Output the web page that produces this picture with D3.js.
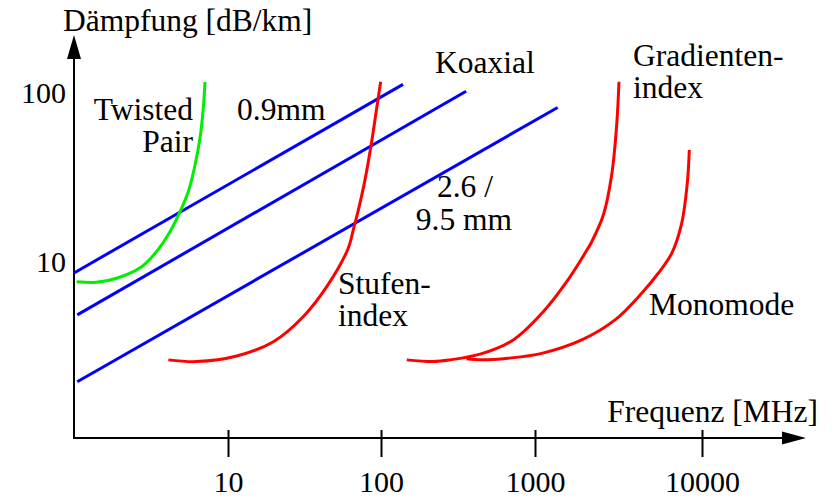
<!DOCTYPE html>
<html>
<head>
<meta charset="utf-8">
<script src="https://cdn.jsdelivr.net/npm/d3@7"></script>
<style>
  html, body { margin: 0; padding: 0; background: #fff; }
  svg { display: block; }
  text { font-family: "Liberation Serif", "Times New Roman", serif; fill: #000; }
</style>
</head>
<body>
<svg id="chart" width="834" height="498"></svg>
<script>
// ---- Data (frequency in MHz, attenuation in dB/km) ----
const xTickValues = [10, 100, 1000, 10000];
const xTickLabels = ["10", "100", "1000", "10000"];
const yTickValues = [10, 100];
const yTickLabels = ["10", "100"];

// Koaxial cables (straight lines in log-log)
const koax09 = [[1.0, 8.5], [139, 111]];
const koaxMid = [[1.05, 4.8], [357, 101]];
const koax26 = [[1.05, 1.93], [1367, 81]];

// Twisted pair (green)
const twistedPair = [
  [1.04, 7.54], [1.40, 7.48], [1.89, 7.9], [2.75, 9.25], [3.44, 11.4],
  [4.20, 14.9], [4.88, 19.6], [5.52, 25.7], [6.11, 37.0], [6.58, 53.4],
  [6.91, 80.1], [7.09, 114.6]
];

// Stufenindex fibre (red)
const stufenindex = [
  [4.10, 2.60], [6.26, 2.54], [11.4, 2.74], [19.8, 3.33], [31.0, 4.68],
  [44.2, 7.05], [61.1, 11.9], [65.9, 15.3], [71.1, 20.0], [78.6, 30.2],
  [86.9, 50.8], [93.7, 80.1], [99.5, 115]
];

// Gradientenindex fibre (red)
const gradientenindex = [
  [147, 2.60], [219, 2.54], [281, 2.60], [440, 2.81], [723, 3.41],
  [1121, 5.01], [1549, 7.54], [1991, 11.1], [2186, 13.0], [2566, 18.7],
  [2878, 32.3], [3084, 63.8], [3184, 115]
];

// Monomode fibre (red)
const monomode = [
  [359, 2.64], [451, 2.60], [671, 2.66], [1097, 2.84], [1905, 3.41],
  [3014, 4.48], [4352, 6.44], [5470, 8.46], [6586, 11.1], [7558, 16.7],
  [8163, 28.8], [8395, 45.4]
];

// ---- Scales ----
const x = d3.scaleLog()
  .domain([1, 10, 100, 1000, 10000])
  .range([74, 228, 381, 535, 702]);
const y = d3.scaleLog()
  .domain([1, 100])
  .range([430, 92]);

const svg = d3.select("#chart");
const FONT = 31.5;
const TICKFONT = 30;

// ---- Axes ----
const axisX = 74, axisY = 438;
svg.append("line")
  .attr("x1", axisX).attr("y1", axisY).attr("x2", 784).attr("y2", axisY)
  .attr("stroke", "#000").attr("stroke-width", 2);
svg.append("path")
  .attr("d", `M806,${axisY} L782,${axisY - 6.5} L782,${axisY + 6.5} Z`)
  .attr("fill", "#000");
svg.append("line")
  .attr("x1", axisX).attr("y1", axisY + 1).attr("x2", axisX).attr("y2", 57)
  .attr("stroke", "#000").attr("stroke-width", 2);
svg.append("path")
  .attr("d", `M${axisX},35 L${axisX - 7},59 L${axisX + 7},59 Z`)
  .attr("fill", "#000");

const gx = svg.append("g")
  .attr("transform", `translate(0,${axisY})`)
  .call(d3.axisBottom(x)
    .tickValues(xTickValues)
    .tickFormat((d, i) => xTickLabels[i])
    .tickSize(19));
gx.select(".domain").remove();
gx.selectAll(".tick line")
  .attr("y1", -8).attr("y2", 19)
  .attr("stroke", "#000").attr("stroke-width", 2);
gx.selectAll(".tick text")
  .attr("y", 54).attr("dy", 0)
  .style("font-family", '"Liberation Serif", serif')
  .style("font-size", TICKFONT + "px")
  .attr("fill", "#000");

const gy = svg.append("g")
  .attr("transform", `translate(${axisX},0)`)
  .call(d3.axisLeft(y)
    .tickValues(yTickValues)
    .tickFormat((d, i) => yTickLabels[i])
    .tickSize(0)
    .tickPadding(8));
gy.select(".domain").remove();
gy.selectAll(".tick line").remove();
gy.selectAll(".tick text")
  .attr("dy", "0.35em")
  .style("font-family", '"Liberation Serif", serif')
  .style("font-size", TICKFONT + "px")
  .attr("fill", "#000");

// ---- Lines ----
const lineStraight = d3.line().x(d => x(d[0])).y(d => y(d[1]));
const lineCurve = d3.line().x(d => x(d[0])).y(d => y(d[1]))
  .curve(d3.curveCatmullRom.alpha(0.5));

[koax09, koaxMid, koax26].forEach(data => {
  svg.append("path").datum(data)
    .attr("d", lineStraight)
    .attr("fill", "none").attr("stroke", "#0000ff")
    .attr("stroke-width", 3);
});

svg.append("path").datum(twistedPair)
  .attr("d", lineCurve)
  .attr("fill", "none").attr("stroke", "#00ee00")
  .attr("stroke-width", 3);

[stufenindex, gradientenindex, monomode].forEach(data => {
  svg.append("path").datum(data)
    .attr("d", lineCurve)
    .attr("fill", "none").attr("stroke", "#ff0000")
    .attr("stroke-width", 3);
});

// ---- Labels ----
function label(txt, px, py, anchor) {
  svg.append("text")
    .attr("x", px).attr("y", py)
    .attr("text-anchor", anchor || "start")
    .style("font-size", FONT + "px")
    .text(txt);
}
label("Dämpfung [dB/km]", 63, 31);
label("Frequenz [MHz]", 818, 422, "end");
label("Twisted", 193, 120, "end");
label("Pair", 193, 152, "end");
label("0.9mm", 237, 120);
label("Koaxial", 435, 73);
label("Gradienten-", 633, 66);
label("index", 633, 98);
label("2.6 /", 465, 197, "middle");
label("9.5 mm", 464, 230, "middle");
label("Stufen-", 338, 294);
label("index", 338, 326);
label("Monomode", 649, 315);
</script>
</body>
</html>
